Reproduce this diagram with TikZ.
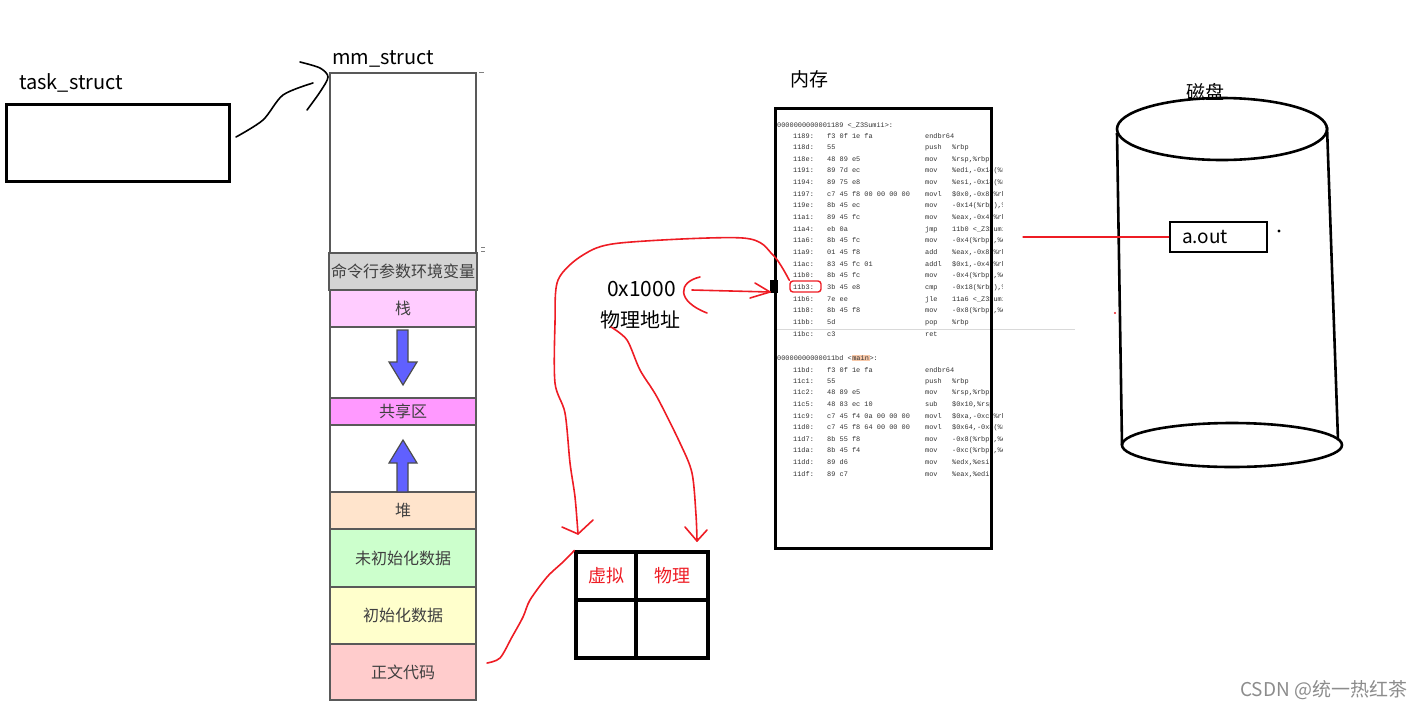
\documentclass[tikz,border=0pt]{standalone}
\usepackage{fontspec}
\setmainfont{Noto Sans CJK SC}
\newfontfamily\asmfont{Liberation Mono}
\definecolor{cmdgray}{HTML}{D4D4D4}
\definecolor{stackpink}{HTML}{FFCCFF}
\definecolor{sharedpink}{HTML}{FF99FF}
\definecolor{heappeach}{HTML}{FFE4CC}
\definecolor{bssgreen}{HTML}{CCFFCC}
\definecolor{datayellow}{HTML}{FFFFCC}
\definecolor{textred}{HTML}{FFCCCC}
\definecolor{penred}{HTML}{EE1C24}
\definecolor{arrowblue}{HTML}{6060FF}
\definecolor{mainhl}{HTML}{F8C8A8}
\newcommand{\asmrow}[4]{\makebox[34pt][l]{#1}\makebox[98pt][l]{#2}\makebox[27pt][l]{#3}#4}

\begin{document}
\begin{tikzpicture}[x=1pt, y=-1pt,
    seg/.style={draw=black!65, line width=1.6pt, minimum width=146pt, inner sep=2pt, text=black!75, font=\fontsize{16}{16}\selectfont},
    lbl/.style={anchor=west, inner sep=0pt, font=\fontsize{19}{19}\selectfont},
    asm/.style={anchor=west, inner sep=0pt, text=black!80, font=\asmfont\fontsize{6.9}{7}\selectfont},
    box/.style={draw, line width=3pt, inner sep=0pt},
    cell/.style={draw, line width=3.2pt, inner sep=0pt, text=penred, font=\fontsize{18}{18}\selectfont},
    pen/.style={penred, line width=1.6pt, line cap=round, line join=round},
    ink/.style={black, line width=1.6pt, line cap=round, line join=round},
    fatarrow/.style={fill=arrowblue, draw=black!70, line width=1.2pt}]
  \useasboundingbox (0,0) rectangle (1426,710);

  % task_struct
  \node[lbl, font=\fontsize{20}{20}\selectfont] (tasklbl) at (19,83) {task\_struct};
  \node[box, minimum width=223pt, minimum height=77pt] (task) at (117.5,142.5) {};

  % mm_struct column
  \node[lbl, font=\fontsize{20}{20}\selectfont] (mmlbl) at (332,59) {mm\_struct};
  \node[seg, minimum height=180pt] (top) at (403,163) {};
  \node[seg, fill=cmdgray, minimum height=37pt] (cmd) at (403,271.5) {命令行参数环境变量};
  \node[seg, fill=stackpink, minimum height=37pt] (stack) at (403,308.5) {栈};
  \node[seg, minimum height=71pt] (gapa) at (403,362.5) {};
  \node[seg, fill=sharedpink, minimum height=27pt] (shared) at (403,411.5) {共享区};
  \node[seg, minimum height=67pt] (gapb) at (403,458.5) {};
  \node[seg, fill=heappeach, minimum height=37pt] (heap) at (403,510.5) {堆};
  \node[seg, fill=bssgreen, minimum height=58pt] (bss) at (403,558) {未初始化数据};
  \node[seg, fill=datayellow, minimum height=57pt] (data) at (403,615.5) {初始化数据};
  \node[seg, fill=textred, minimum height=56pt] (code) at (403,672) {正文代码};
  \draw[black!50, line width=1pt] (479,72) -- (484,72) (481,247) -- (485,247) (481,251) -- (485,251);
  \filldraw[fatarrow] (397,330) -- (408,330) -- (408,362) -- (417,362) -- (403,385) -- (389,362) -- (397,362) -- cycle;
  \filldraw[fatarrow] (397,492) -- (408,492) -- (408,463) -- (417,463) -- (403,440) -- (389,463) -- (397,463) -- cycle;

  % task_struct -> mm_struct
  \draw[ink] plot[smooth] coordinates {(236,137) (263,120) (283,95) (313,83)};
  \draw[ink] plot[smooth] coordinates {(300,62) (320,68) (328,77) (320,92) (307,110)};

  % memory with the code listing
  \node[lbl] (memlbl) at (790,79) {内存};
  \begin{scope}
    \clip (777,110) rectangle (1002,546);
    \node[asm] (t1) at (777,125) {0000000000001189 <\_Z3Sumii>:};
    \node[asm] (r1) at (793,136) {\asmrow{1189:}{f3 0f 1e fa}{endbr64}{}};
    \node[asm] (r2) at (793,147.6) {\asmrow{118d:}{55}{push}{\%rbp}};
    \node[asm] (r3) at (793,159.3) {\asmrow{118e:}{48 89 e5}{mov}{\%rsp,\%rbp}};
    \node[asm] (r4) at (793,171) {\asmrow{1191:}{89 7d ec}{mov}{\%edi,-0x14(\%rbp)}};
    \node[asm] (r5) at (793,182.6) {\asmrow{1194:}{89 75 e8}{mov}{\%esi,-0x18(\%rbp)}};
    \node[asm] (r6) at (793,194.3) {\asmrow{1197:}{c7 45 f8 00 00 00 00}{movl}{\$0x0,-0x8(\%rbp)}};
    \node[asm] (r7) at (793,206) {\asmrow{119e:}{8b 45 ec}{mov}{-0x14(\%rbp),\%eax}};
    \node[asm] (r8) at (793,217.6) {\asmrow{11a1:}{89 45 fc}{mov}{\%eax,-0x4(\%rbp)}};
    \node[asm] (r9) at (793,229.3) {\asmrow{11a4:}{eb 0a}{jmp}{11b0 <\_Z3Sumii+0x27>}};
    \node[asm] (r10) at (793,241) {\asmrow{11a6:}{8b 45 fc}{mov}{-0x4(\%rbp),\%eax}};
    \node[asm] (r11) at (793,252.6) {\asmrow{11a9:}{01 45 f8}{add}{\%eax,-0x8(\%rbp)}};
    \node[asm] (r12) at (793,264.3) {\asmrow{11ac:}{83 45 fc 01}{addl}{\$0x1,-0x4(\%rbp)}};
    \node[asm] (r13) at (793,276) {\asmrow{11b0:}{8b 45 fc}{mov}{-0x4(\%rbp),\%eax}};
    \node[asm] (r14) at (793,287.6) {\asmrow{11b3:}{3b 45 e8}{cmp}{-0x18(\%rbp),\%eax}};
    \node[asm] (r15) at (793,299.3) {\asmrow{11b6:}{7e ee}{jle}{11a6 <\_Z3Sumii+0x1d>}};
    \node[asm] (r16) at (793,311) {\asmrow{11b8:}{8b 45 f8}{mov}{-0x8(\%rbp),\%eax}};
    \node[asm] (r17) at (793,322.6) {\asmrow{11bb:}{5d}{pop}{\%rbp}};
    \node[asm] (r18) at (793,334.3) {\asmrow{11bc:}{c3}{ret}{}};
    \node[asm] (t2) at (777,358) {00000000000011bd <{\setlength\fboxsep{0.6pt}\colorbox{mainhl}{main}}>:};
    \node[asm] (m1) at (793,370) {\asmrow{11bd:}{f3 0f 1e fa}{endbr64}{}};
    \node[asm] (m2) at (793,381.6) {\asmrow{11c1:}{55}{push}{\%rbp}};
    \node[asm] (m3) at (793,393.2) {\asmrow{11c2:}{48 89 e5}{mov}{\%rsp,\%rbp}};
    \node[asm] (m4) at (793,404.8) {\asmrow{11c5:}{48 83 ec 10}{sub}{\$0x10,\%rsp}};
    \node[asm] (m5) at (793,416.4) {\asmrow{11c9:}{c7 45 f4 0a 00 00 00}{movl}{\$0xa,-0xc(\%rbp)}};
    \node[asm] (m6) at (793,428) {\asmrow{11d0:}{c7 45 f8 64 00 00 00}{movl}{\$0x64,-0x8(\%rbp)}};
    \node[asm] (m7) at (793,439.6) {\asmrow{11d7:}{8b 55 f8}{mov}{-0x8(\%rbp),\%edx}};
    \node[asm] (m8) at (793,451.2) {\asmrow{11da:}{8b 45 f4}{mov}{-0xc(\%rbp),\%eax}};
    \node[asm] (m9) at (793,462.8) {\asmrow{11dd:}{89 d6}{mov}{\%edx,\%esi}};
    \node[asm] (m10) at (793,474.4) {\asmrow{11df:}{89 c7}{mov}{\%eax,\%edi}};
  \end{scope}
  \draw[black!15, line width=1pt] (777,329) -- (1075,329);
  \node[box, minimum width=216pt, minimum height=440pt] (mem) at (883,328) {};
  \fill (770,280) rectangle (778,293);

  % disk
  \node[lbl] (disklbl) at (1186,92) {磁盘};
  \draw[line width=2.6pt] (1222,129) ellipse [x radius=105, y radius=31];
  \draw[line width=2.6pt] (1117,133) -- (1122,445) (1327,127) -- (1338,440);
  \draw[line width=2.6pt] (1232,445) ellipse [x radius=110, y radius=22];
  \node[draw, line width=2.6pt, minimum width=97pt, minimum height=30pt, inner xsep=12pt, inner ysep=0pt,
        text width=73pt, align=left, font=\fontsize{19}{19}\selectfont] (aout) at (1218.5,237) {a.out};
  \fill (1279,231) circle (1.6);
  \fill[penred] (1115,313) circle (1.1);
  \coordinate (memout) at (1023,237);
  \draw[pen, line width=1.2pt] (memout) -- (aout.west);

  % address and page table
  \node[lbl, font=\fontsize{21}{21}\selectfont] (addr) at (607,289) {0x1000};
  \node[lbl, font=\fontsize{20}{20}\selectfont] (phys) at (600,320) {物理地址};
  \node[cell, minimum width=60pt, minimum height=48pt] (pv) at (606,576) {虚拟};
  \node[cell, minimum width=72pt, minimum height=48pt] (pp) at (672,576) {物理};
  \node[cell, minimum width=60pt, minimum height=58pt] (pl) at (606,629) {};
  \node[cell, minimum width=72pt, minimum height=58pt] (pr) at (672,629) {};

  % red pen marks
  \node[draw=penred, line width=1.4pt, rounded corners=3pt, minimum width=31pt, minimum height=11pt, inner sep=0pt] (pc) at (805.5,286.5) {};
  \coordinate (vtip) at (578,534);
  \coordinate (ptip) at (697,541);
  \coordinate (memin) at (770,292);
  \draw[pen] (700,277) .. controls (678,282) and (676,301) .. (707,313);
  \draw[pen] (692,290) -- (memin);
  \draw[pen] (755,283) -- (memin) -- (750,298);
  \draw[pen] plot[smooth] coordinates {(pc.north west) (773,255) (743,238) (620,243) (583,255) (558,280) (555,323) (555,383) (565,413) (570,463) (575,497) (vtip)};
  \draw[pen] (562,527) -- (vtip) -- (593,520);
  \draw[pen] plot[smooth] coordinates {(611,327) (627,340) (640,370) (657,397) (680,443) (692,473) (696,515) (ptip)};
  \draw[pen] (685,527) -- (ptip) -- (707,530);
  \draw[pen] plot[smooth] coordinates {(487,663) (500,658) (512,637) (523,617) (530,600) (547,577) (563,562) (pv.north west)};

  \node[anchor=west, inner sep=0pt, text=black!45, font=\fontsize{19}{19}\selectfont] (mark) at (1240,690) {CSDN @统一热红茶};
\end{tikzpicture}
\end{document}
